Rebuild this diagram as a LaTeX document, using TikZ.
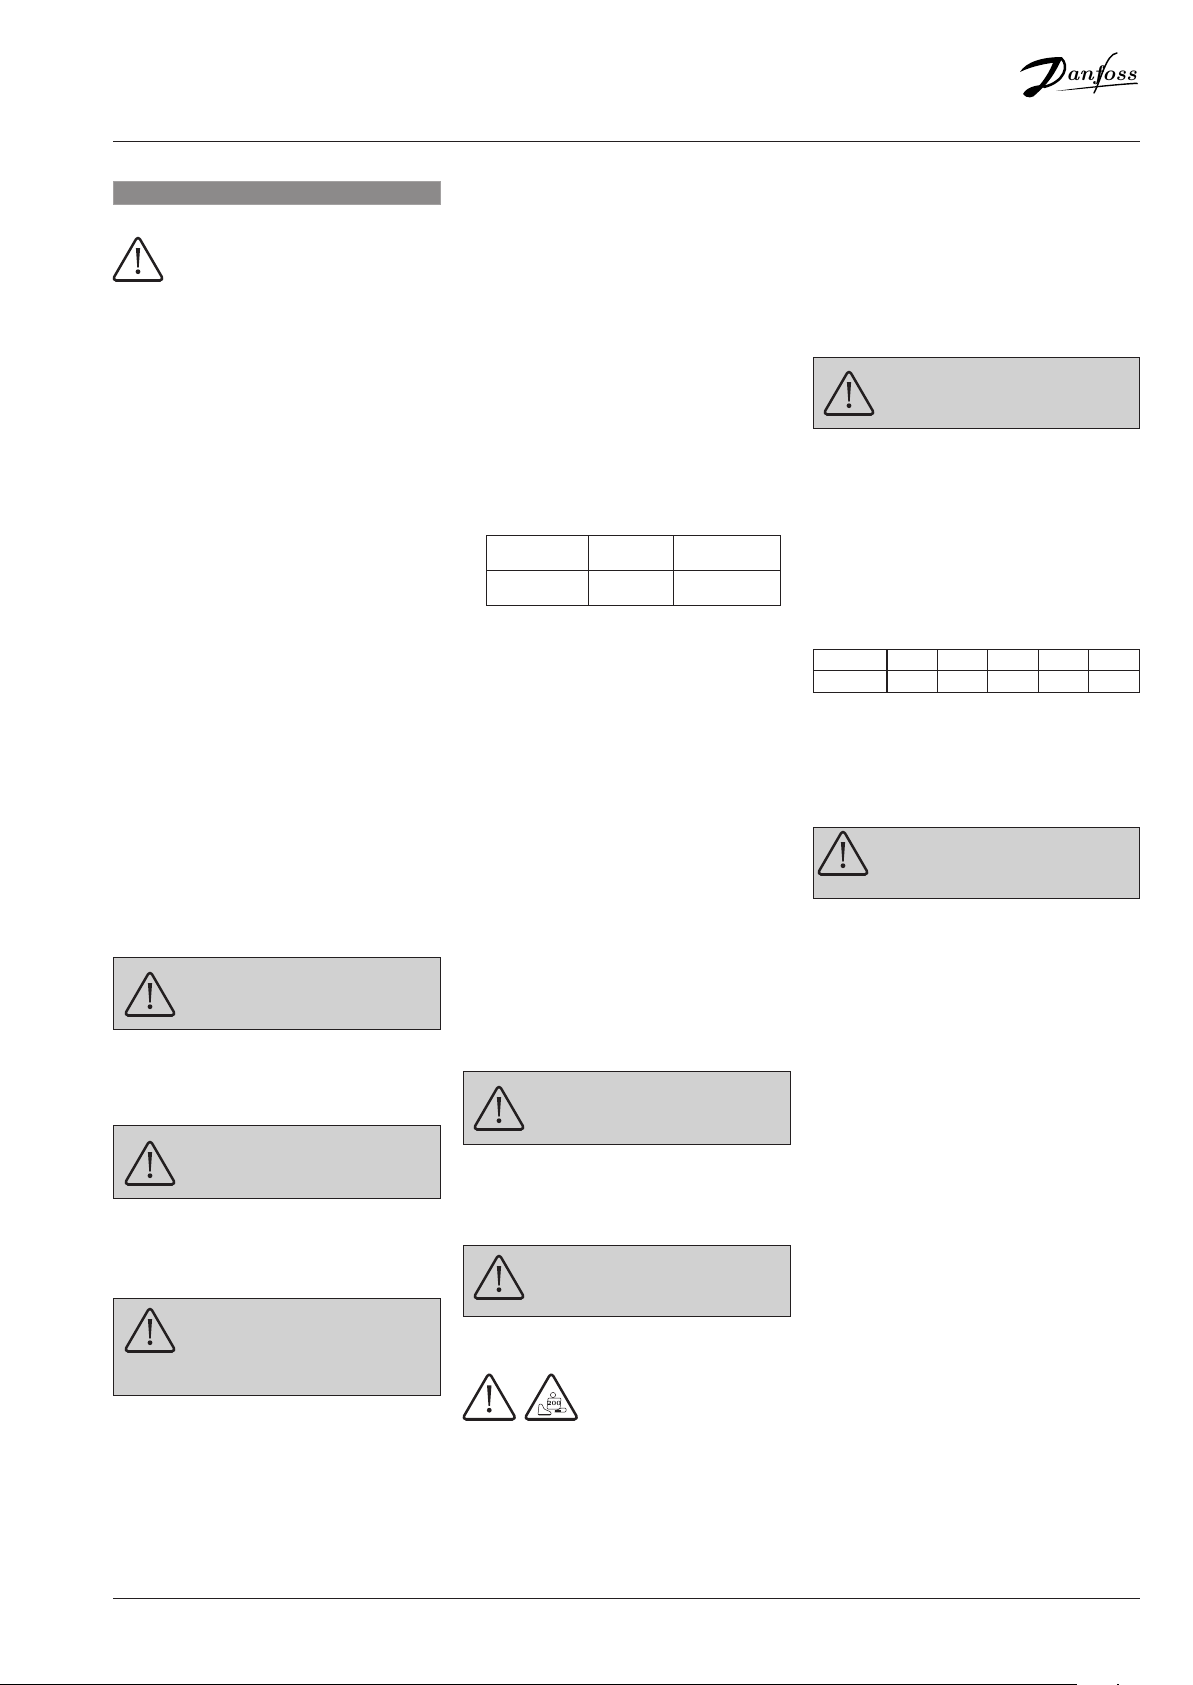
\documentclass[tikz,border=0pt]{standalone}
\usepackage{tikz}
\usetikzlibrary{positioning}
\definecolor{inkblack}{HTML}{231F20}
\definecolor{boxgrey}{HTML}{D1D1D1}
\definecolor{bargrey}{HTML}{8C8A8A}
\definecolor{baredge}{HTML}{A3A1A1}
\tikzset{
  rule/.style={draw=inkblack, line width=0.26mm},
  warnbox/.style={draw=inkblack, fill=boxgrey, line width=0.24mm},
  grid/.style={draw=inkblack, line width=0.24mm},
  triline/.style={draw=inkblack, line width=0.5mm, rounded corners=0.8mm, line join=round},
  pictoline/.style={draw=inkblack, line width=0.1mm},
  logostroke/.style={draw=black, line cap=round, line join=round}
}
\newcommand{\warnshell}[3][1]{%
  \draw [triline] (#2-0.8*#1,#3+1.7*#1) -- (#2+50.8*#1,#3+1.7*#1) -- (#2+25*#1,#3+46.2*#1) -- cycle;
  \draw [draw=inkblack, line width=0.7mm, line cap=round] (#2+3*#1,#3+1.6*#1) -- (#2+47*#1,#3+1.6*#1);
}
\newcommand{\warntri}[3][1]{%
  \warnshell[#1]{#2}{#3}
  \fill [inkblack] (#2+22.9*#1,#3+34*#1) -- (#2+27.1*#1,#3+34*#1) -- (#2+25.7*#1,#3+14.5*#1) -- (#2+24.3*#1,#3+14.5*#1) -- cycle;
  \fill [inkblack] (#2+25*#1,#3+10.3*#1) circle (2.4);
}
\begin{document}
\begin{tikzpicture}[x=0.2mm, y=0.2mm]
\useasboundingbox (0,0) rectangle (1192,-1685);
\draw [rule] (113,-141.3) -- (1140,-141.3);
\draw [rule] (113,-1598.3) -- (1140,-1598.3);
\fill [black] (0,-1683.7) rectangle (1077,-1685);
\fill [black] (1117,-1683.7) rectangle (1119,-1685);
\draw [draw=baredge, fill=bargrey, line width=0.2mm] (113.3,-181.3) rectangle (440.7,-204.5);
\warntri{113}{-282}
\draw [warnbox] (813.3,-357.3) rectangle (1139.7,-428.3);
\warntri{824}{-416}
\draw [warnbox] (813.3,-827.3) rectangle (1139.7,-898.3);
\warntri{818}{-876}
\draw [warnbox] (113.3,-957.3) rectangle (440.7,-1029.3);
\warntri{125}{-1017}
\draw [warnbox] (113.3,-1125.3) rectangle (440.7,-1198.3);
\warntri{125}{-1186}
\draw [warnbox] (113.3,-1298.3) rectangle (440.7,-1395.3);
\warntri{125}{-1353}
\draw [warnbox] (463.3,-1071.3) rectangle (790.3,-1144.3);
\warntri{474}{-1131}
\draw [warnbox] (463.3,-1245.3) rectangle (790.3,-1316.3);
\warntri{474}{-1300}
\warntri[1.05]{463}{-1421}
\warnshell[1.05]{525}{-1421}
\draw [pictoline] (553,-1395) circle (2.6);
\draw [pictoline, fill=white, rounded corners=0.2mm] (547,-1409) -- (560,-1409) -- (561,-1398) -- (548,-1398) -- cycle;
\node (weightlabel) at (554,-1403.5) [inner sep=0pt, font=\fontsize{3.6}{4}\selectfont\bfseries] {200};
\draw [pictoline, rounded corners=0.2mm] (539,-1404) -- (542,-1404) -- (544,-1409) -- (551,-1412) -- (551,-1415) -- (538,-1415) -- cycle;
\fill [inkblack] (538,-1414) rectangle (551,-1415);
\draw [pictoline, rounded corners=0.2mm] (555,-1411) -- (561,-1408) -- (566,-1408) -- (566,-1412) -- (555,-1412) -- cycle;
\fill [inkblack] (555,-1410) rectangle (561,-1412);
\draw [grid] (486.3,-535.3) rectangle (780.7,-605.3);
\draw [grid] (486.3,-570.3) -- (780.7,-570.3);
\draw [grid] (588.3,-535.3) -- (588.3,-605.3);
\draw [grid] (673.3,-535.3) -- (673.3,-605.3);
\draw [grid] (813.3,-649.3) rectangle (1139.7,-692.3);
\draw [grid] (813.3,-670.3) -- (1139.7,-670.3);
\draw [grid, line width=0.42mm] (886.7,-649.3) -- (886.7,-692.3);
\draw [grid] (937.3,-649.3) -- (937.3,-692.3);
\draw [grid] (987.3,-649.3) -- (987.3,-692.3);
\draw [grid] (1038.3,-649.3) -- (1038.3,-692.3);
\draw [grid] (1088.3,-649.3) -- (1088.3,-692.3);
\node (danfosslogo) at (1066,-80) [anchor=base west, inner sep=0pt, xscale=1.04, text=black, font=\bfseries\itshape\fontsize{12}{12}\selectfont] {anfoss};
\fill [black] (1020,-72) .. controls (1026,-62) and (1042,-57) .. (1062,-57) -- (1060,-62) .. controls (1048,-63) and (1032,-66) .. (1020,-72);
\fill [black] (1054,-60) -- (1062,-58) .. controls (1056,-72) and (1048,-84) .. (1036,-94) -- (1032,-93) .. controls (1042,-84) and (1050,-72) .. (1054,-60);
\draw [logostroke, line width=0.5mm] (1061,-58) .. controls (1070,-66) and (1064,-82) .. (1044,-87);
\fill [black] (1023,-94) .. controls (1027,-86) and (1040,-84) .. (1052,-85) .. controls (1040,-86) and (1034,-90) .. (1036,-94) .. controls (1034,-98) and (1026,-99) .. (1023,-94);
\fill [black] (1056,-91) .. controls (1085,-89) and (1115,-85) .. (1138,-84) -- (1137,-82.5) .. controls (1115,-84) and (1085,-87) .. (1056,-91);
\draw [logostroke, line width=0.3mm] (1094,-93) .. controls (1101,-80) and (1106,-54) .. (1117,-53);
\end{tikzpicture}
\end{document}
